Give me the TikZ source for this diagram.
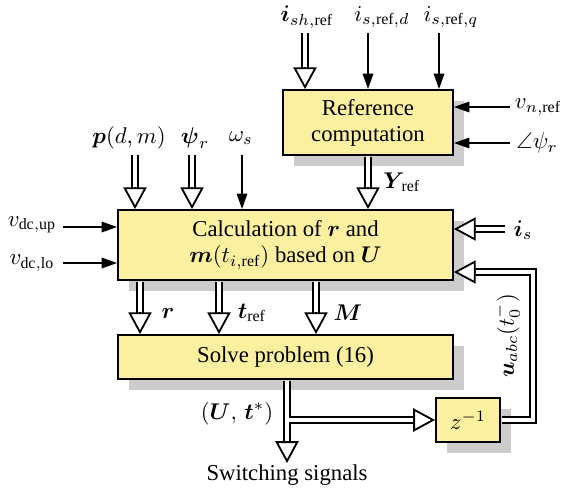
\documentclass[tikz,border=0pt]{standalone}
\usepackage{amsmath,amssymb}
\usepackage{fontspec}
\setmainfont{Liberation Serif}
\usetikzlibrary{arrows.meta,calc,shadows}
\definecolor{boxfill}{RGB}{250,240,160}
\definecolor{shade}{RGB}{204,204,204}
\newcommand\dtip[2]{\draw[dtipst] ($(#2)!9.6pt!(#1)$) -- (#2);}
\begin{document}
\begin{tikzpicture}[x=0.44pt,y=-0.44pt, font=\fontsize{10}{11.5}\selectfont,
  blk/.style={draw, line width=0.8pt, fill=boxfill, inner sep=0pt, align=center,
    drop shadow={shadow xshift=4.84pt, shadow yshift=-4.84pt, opacity=1, fill=shade}},
  sarrow/.style={line width=0.8pt, -{Triangle[length=6.8pt,width=4.6pt]}},
  dshaft/.style={draw=black, line width=0.8pt, double=white, double distance=2pt, shorten >=8.6pt},
  fromblk/.style={shorten <=0.4pt},
  dtipst/.style={line width=0.8pt, line join=miter, -{Triangle[open,fill=white,length=9.6pt,width=10.2pt]}},
  lbl/.style={inner sep=0pt}]
\useasboundingbox (0,0) rectangle (564,493);

% blocks
\node[blk, minimum width=74.8pt, minimum height=28.6pt] (ref) at (368,122.5) {Reference\\computation};
\node[blk, minimum width=147.4pt, minimum height=30.8pt] (calc) at (285.5,245) {Calculation of $\boldsymbol{r}$ and\\$\boldsymbol{m}(t_{i,\mathrm{ref}})$ based on $\boldsymbol{U}$};
\node[blk, minimum width=147.4pt, minimum height=19.36pt] (solve) at (285.5,357) {Solve problem (16)};
\node[blk, minimum width=28.2pt, minimum height=19.36pt] (zb) at (468,420) {$z^{-1}$};

% labels
\node[lbl] (lish) at (307,17) {$\boldsymbol{i}_{sh,\mathrm{ref}}$};
\node[lbl] (lisd) at (382,17) {$i_{s,\mathrm{ref},d}$};
\node[lbl] (lisq) at (451,17) {$i_{s,\mathrm{ref},q}$};
\node[lbl] (lvn) at (538,107) {$v_{n,\mathrm{ref}}$};
\node[lbl] (lang) at (537,143) {$\angle\psi_r$};
\node[lbl, anchor=west] (lY) at (383,182) {$\boldsymbol{Y}_{\!\mathrm{ref}}$};
\node[lbl] (lp) at (129,138) {$\boldsymbol{p}(d,m)$};
\node[lbl] (lpsi) at (195,138) {$\boldsymbol{\psi}_r$};
\node[lbl] (lom) at (241,138) {$\omega_s$};
\node[lbl] (lvup) at (32,225) {$v_{\mathrm{dc,up}}$};
\node[lbl] (lvlo) at (32,263) {$v_{\mathrm{dc,lo}}$};
\node[lbl] (lis) at (523,230) {$\boldsymbol{i}_s$};
\node[lbl] (lr) at (168,313) {$\boldsymbol{r}$};
\node[lbl] (ltref) at (252,313) {$\boldsymbol{t}_{\mathrm{ref}}$};
\node[lbl] (lM) at (348,313) {$\boldsymbol{M}$};
\node[lbl] (lUt) at (237,414) {$(\boldsymbol{U},\,\boldsymbol{t}^*)$};
\node[lbl] (lsw) at (287,475) {Switching signals};
\node[lbl, rotate=90] (lu) at (507,336) {$\boldsymbol{u}_{abc}(t_0^-)$};

% coordinates
\coordinate (ish0) at (305,33);  \coordinate (ish1) at (ish0 |- ref.north);
\coordinate (isd0) at (368,33);  \coordinate (isd1) at (isd0 |- ref.north);
\coordinate (isq0) at (439,33);  \coordinate (isq1) at (isq0 |- ref.north);
\coordinate (vn0) at (510,107);  \coordinate (vn1) at (vn0 -| ref.east);
\coordinate (ang0) at (510,143); \coordinate (ang1) at (ang0 -| ref.east);
\coordinate (Y0) at (368,155);   \coordinate (Y0) at (Y0 |- ref.south); \coordinate (Y1) at (Y0 |- calc.north);
\coordinate (p0) at (135,155);   \coordinate (p1) at (p0 |- calc.north);
\coordinate (psi0) at (192,155); \coordinate (psi1) at (psi0 |- calc.north);
\coordinate (om0) at (242,155);  \coordinate (om1) at (om0 |- calc.north);
\coordinate (vup0) at (63,227);  \coordinate (vup1) at (vup0 -| calc.west);
\coordinate (vlo0) at (63,263);  \coordinate (vlo1) at (vlo0 -| calc.west);
\coordinate (is0) at (505,229);  \coordinate (is1) at (is0 -| calc.east);
\coordinate (r0) at (140,280);   \coordinate (r0) at (r0 |- calc.south); \coordinate (r1) at (r0 |- solve.north);
\coordinate (t0) at (219,280);   \coordinate (t0) at (t0 |- calc.south); \coordinate (t1) at (t0 |- solve.north);
\coordinate (M0) at (316,280);   \coordinate (M0) at (M0 |- calc.south); \coordinate (M1) at (M0 |- solve.north);
\coordinate (sw0) at (287,379);  \coordinate (sw0) at (sw0 |- solve.south); \coordinate (sw1) at (287,463);
\coordinate (br0) at (287,420);  \coordinate (br1) at (br0 -| zb.west);
\coordinate (fb0) at (zb.east);  \coordinate (fb1) at (533,420); \coordinate (fb2) at (533,272);
\coordinate (fb3) at (fb2 -| calc.east);
\coordinate (jA) at (287,410);   \coordinate (jB) at (287,430);

% thin arrows
\draw[sarrow] (isd0) -- (isd1);
\draw[sarrow] (isq0) -- (isq1);
\draw[sarrow] (vn0) -- (vn1);
\draw[sarrow] (ang0) -- (ang1);
\draw[sarrow] (om0) -- (om1);
\draw[sarrow] (vup0) -- (vup1);
\draw[sarrow] (vlo0) -- (vlo1);

% double arrows
\draw[dshaft] (ish0) -- (ish1); \dtip{ish0}{ish1}
\draw[dshaft, fromblk] (Y0) -- (Y1); \dtip{Y0}{Y1}
\draw[dshaft] (p0) -- (p1); \dtip{p0}{p1}
\draw[dshaft] (psi0) -- (psi1); \dtip{psi0}{psi1}
\draw[dshaft] (is0) -- (is1); \dtip{is0}{is1}
\draw[dshaft, fromblk] (r0) -- (r1); \dtip{r0}{r1}
\draw[dshaft, fromblk] (t0) -- (t1); \dtip{t0}{t1}
\draw[dshaft, fromblk] (M0) -- (M1); \dtip{M0}{M1}
\draw[dshaft, fromblk] (sw0) -- (sw1);
\draw[dshaft] (br0) -- (br1);
\draw[white, line width=2pt] (jA) -- (jB);
\dtip{sw0}{sw1}
\dtip{br0}{br1}
\draw[dshaft, fromblk, line join=miter] (fb0) -- (fb1) -- (fb2) -- (fb3); \dtip{fb2}{fb3}
\end{tikzpicture}
\end{document}
